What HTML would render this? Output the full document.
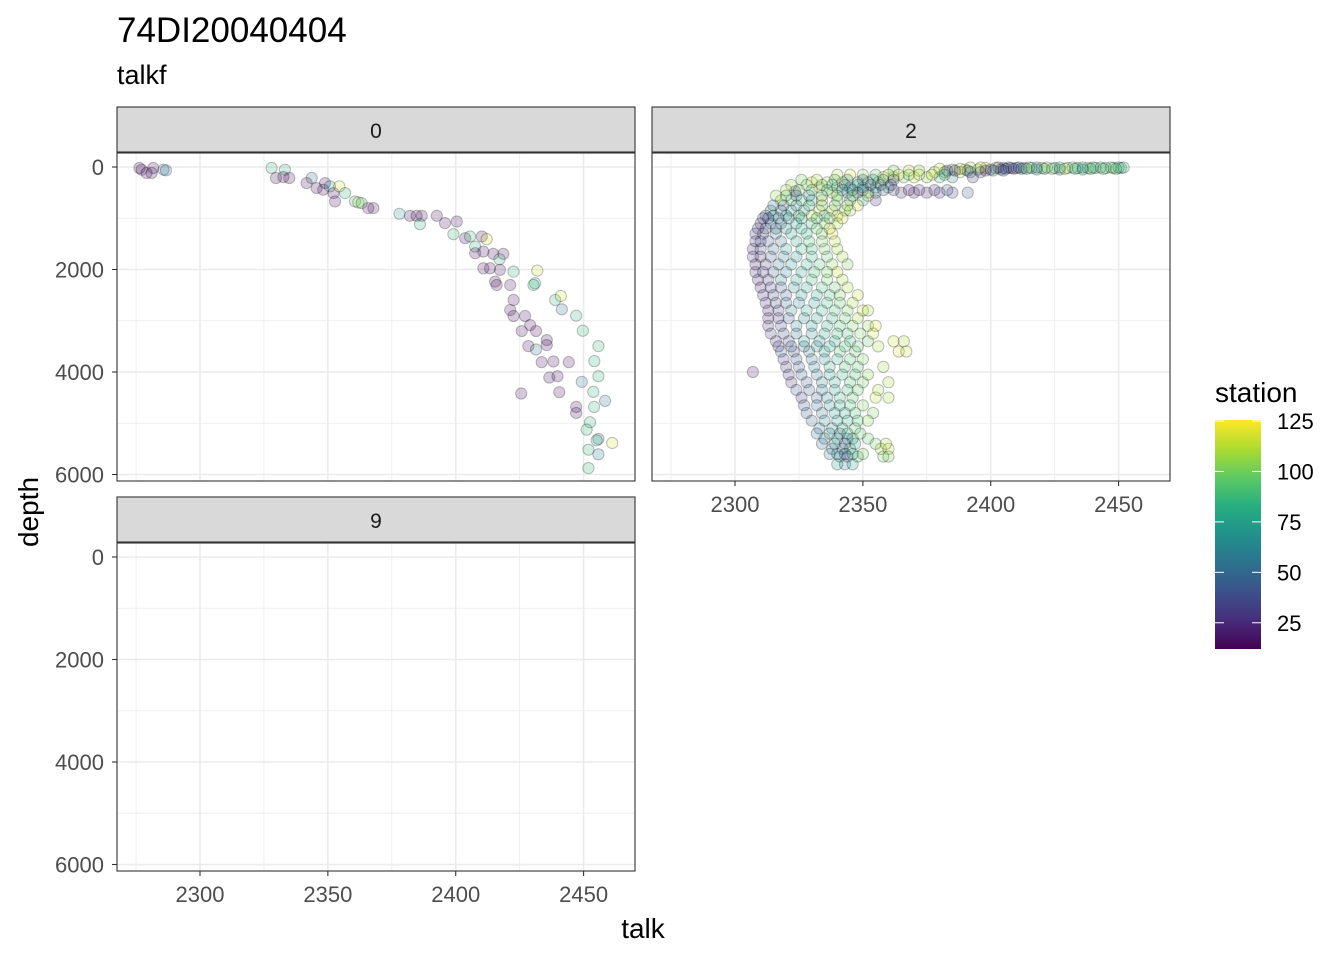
<!DOCTYPE html>
<html><head><meta charset="utf-8"><style>
body{margin:0;background:#fff;}
svg{display:block;font-family:"Liberation Sans",sans-serif;}
</style></head><body>
<svg id="chart" width="1344" height="960" viewBox="0 0 1344 960">
<defs>
<linearGradient id="vir" x1="0" y1="1" x2="0" y2="0">
<stop offset="0" stop-color="#440154"/><stop offset="0.125" stop-color="#472d7b"/><stop offset="0.25" stop-color="#3b528b"/><stop offset="0.375" stop-color="#2c728e"/><stop offset="0.5" stop-color="#21918c"/><stop offset="0.625" stop-color="#28ae80"/><stop offset="0.75" stop-color="#5ec962"/><stop offset="0.875" stop-color="#addc30"/><stop offset="1" stop-color="#fde725"/>
</linearGradient>
</defs>
<text x="117" y="42" font-size="35" fill="#000">74DI20040404</text>
<text x="117" y="84" font-size="27" fill="#000">talkf</text>
<text x="643" y="938" font-size="28" text-anchor="middle" fill="#000">talk</text>
<text transform="translate(38,512) rotate(-90)" font-size="28" text-anchor="middle" fill="#000">depth</text>
<g id="panels"></g>
<g>
<text x="1215" y="402" font-size="28" fill="#000">station</text>
<rect x="1215" y="420" width="46" height="229" fill="url(#vir)"/>
<g id="legticks"></g>
</g>
</svg>
<script>
// ---- data ----
const xTicks = [2300, 2350, 2400, 2450];
const xMinor = [2275, 2325, 2375, 2425];
const yTicks = [0, 2000, 4000, 6000];
const yMinor = [1000, 3000, 5000];
const legendTicks = [25, 50, 75, 100, 125];
const facetLabels = ["0", "2", "9"];

const talk0 = [2276.3,2277.2,2279.1,2281.7,2281.1,2285.7,2286.7,2328.0,2333.2,2329.7,2332.6,2334.9,2343.7,2341.7,2345.6,2348.9,2348.2,2350.8,2352.2,2354.5,2356.7,2352.8,2360.6,2361.9,2363.2,2365.8,2367.8,2378.0,2382.1,2384.7,2386.7,2386.0,2392.6,2395.8,2400.4,2399.1,2403.7,2405.6,2410.2,2412.1,2407.6,2407.6,2410.8,2414.7,2418.6,2417.1,2410.8,2413.4,2417.3,2422.6,2431.9,2415.4,2416.0,2421.3,2431.0,2430.4,2422.6,2421.3,2422.6,2427.1,2438.9,2441.1,2441.5,2447.1,2425.8,2429.1,2431.4,2435.6,2435.6,2428.4,2431.4,2449.7,2433.6,2438.2,2444.2,2455.8,2454.2,2455.8,2436.6,2439.8,2449.3,2425.6,2440.5,2453.8,2458.4,2447.1,2447.1,2454.1,2452.5,2451.2,2455.8,2455.1,2461.2,2451.9,2455.8,2451.9];
const depth0 = [20,52,117,20,117,52,65,20,52,215,196,215,215,313,411,313,443,378,509,378,509,672,672,691,704,802,802,913,952,952,952,1115,952,1095,1063,1311,1389,1356,1356,1408,1552,1682,1650,1695,1695,1800,1976,1976,2008,2041,2021,2236,2302,2302,2269,2302,2595,2791,2908,2908,2595,2517,2778,2901,3201,3084,3201,3377,3475,3495,3560,3195,3808,3795,3808,3495,3788,4082,4108,4082,4192,4420,4394,4388,4564,4681,4799,4681,4981,5125,5307,5333,5385,5516,5607,5875];
const station0 = [15,15,15,15,15,55,55,85,85,15,15,15,55,15,15,15,15,70,15,118,85,15,85,118,85,15,15,70,15,15,15,85,15,15,15,85,15,85,15,118,85,15,15,15,15,85,15,15,15,85,118,15,15,15,85,85,15,15,15,15,85,118,55,85,15,15,15,15,15,15,55,85,15,15,15,85,85,85,15,15,55,15,15,85,55,15,15,85,85,85,55,85,118,85,55,85];

const rowDepths2 = [20,50,100,200,300,400,500,476,650,850,950,1100,1300,1600,1900,2200,2500,2800,3100,3400,3600,3900,4000,4200,4500,4800,5100,5300,5500,5650,5800];
const rowTalks2 = [
[2405,2410,2413,2416,2420,2425,2430,2434,2438,2441,2445,2448,2451,2408,2402,2398],
[2385,2390,2395,2400,2404,2418,2427,2436],
[2378,2382,2388,2392,2396],
[2358,2362,2366,2370,2375,2380,2385,2393],
[2330,2336,2342,2348,2352,2356],
[2333,2340,2345,2350,2355,2360],
[2338,2344,2348,2352,2355,2365,2370,2375,2380,2385,2391],
[2323.5],
[2318,2322,2326,2330,2334,2340,2345,2350,2355],
[2314,2318,2322,2327,2333,2338,2343,2345],
[2312,2315,2320,2325,2330,2335,2340],
[2310,2314,2318,2324,2330,2335,2340],
[2308,2311,2316,2322,2328,2334,2338],
[2307,2310,2315,2320,2326,2330,2335,2340],
[2308,2312,2317,2322,2328,2333,2338,2344],
[2309,2313,2318,2324,2330,2336,2342],
[2311,2315,2320,2326,2332,2337,2341,2348],
[2313,2317,2322,2328,2334,2339,2344,2350,2352],
[2313,2318,2324,2330,2336,2341,2346,2352,2355],
[2316,2321,2327,2333,2339,2345,2352,2362,2366],
[2318,2323,2329,2335,2341,2347,2364,2367],
[2320,2325,2331,2337,2343,2348,2358],
[2307],
[2322,2328,2334,2339,2345,2350,2360],
[2326,2332,2336,2341,2346,2355,2360],
[2328,2334,2339,2343,2347,2354],
[2333,2338,2342,2347],
[2335,2340,2344,2346,2352],
[2338,2342,2345,2357,2360],
[2341,2344,2348,2358,2360],
[2340,2343,2346]];
const rowStations2 = [
[20,60,30,90,110,70,90,80,100,95,85,90,80,40,115,118],
[100,110,95,40,50,70,60,75],
[105,90,115,70,30],
[118,110,100,118,105,85,60,25],
[118,110,118,90,100,118],
[115,85,60,65,70,90],
[110,60,20,50,60,25,20,20,25,30,40],
[25],
[110,95,90,85,118,100,70,80,25],
[60,55,80,90,118,110,100,110],
[40,65,70,85,110,85,115],
[25,50,60,75,85,100,110],
[30,35,60,75,80,100,118],
[25,35,50,70,85,85,100,110],
[20,30,55,70,80,90,105,100],
[20,30,60,75,85,100,110],
[25,35,45,70,75,90,100,115],
[20,30,65,75,80,90,100,115,110],
[25,35,65,70,75,90,100,105,120],
[30,35,70,65,75,85,95,115,110],
[40,35,60,75,90,95,118,115],
[30,40,60,80,90,95,110],
[20],
[25,40,60,80,90,100,110],
[30,45,65,85,95,115,110],
[40,55,70,80,90,100],
[60,65,85,95],
[60,75,50,80,95],
[60,55,85,110,118],
[70,40,90,100,100],
[70,60,70]];

const rowDepthsExtra2 = [10,35,70,150,250,350,450,560,750,1000,1200,1450,1750,2050,2350,2650,2950,3250,3500,3750,4050,4350,4650,4950,5200,5400,5600];
const rowTalksExtra2 = [
[2403,2407,2411,2415,2418,2422,2427,2432,2436,2440,2443,2447,2450,2452,2396,2392],
[2406,2409,2412,2414,2421,2424,2429,2433,2439,2444,2449,2380,2388],
[2362,2368,2372,2383,2386,2391,2398,2401,2405],
[2340,2345,2350,2355,2360,2364,2368,2372,2377,2382],
[2326,2332,2339,2344,2350,2354,2358,2362],
[2322,2328,2334,2338,2343,2348,2353,2357,2361],
[2320,2325,2330,2336,2342,2346,2350,2358,2362,2368,2372,2378,2383],
[2316,2320,2324,2329,2334,2340,2346,2352],
[2315,2319,2324,2329,2334,2339,2344,2348],
[2311,2313,2317,2321,2326,2332,2337,2342],
[2309,2312,2316,2320,2326,2332,2337],
[2308,2310,2313,2318,2324,2329,2334,2339],
[2307,2310,2314,2319,2324,2330,2336,2342],
[2308,2311,2315,2320,2326,2331,2336,2340],
[2310,2314,2318,2323,2328,2334,2339,2344],
[2312,2316,2320,2325,2331,2336,2341,2346],
[2313,2317,2321,2327,2332,2338,2343,2348],
[2314,2319,2324,2330,2335,2340,2344,2349,2354],
[2317,2322,2327,2332,2337,2343,2348,2356],
[2319,2324,2330,2335,2340,2345,2350],
[2321,2326,2332,2337,2342,2347,2352],
[2324,2329,2334,2339,2344,2348,2356],
[2327,2332,2337,2341,2345,2350],
[2330,2335,2340,2344,2348,2352],
[2332,2337,2341,2344,2349],
[2334,2339,2343,2347,2355,2359],
[2337,2340,2343,2346,2350]];
const rowStationsExtra2 = [
[30,50,45,100,60,110,85,95,80,90,70,95,85,90,118,110],
[35,20,55,95,75,100,118,90,85,100,95,118,110],
[100,118,110,30,25,30,20,50,40],
[110,118,105,95,110,118,100,110,118,90],
[100,110,95,60,45,65,75,40],
[105,100,95,85,65,70,40,45,30],
[110,100,95,90,60,70,70,50,30,20,25,30,40],
[105,90,55,65,95,100,100,118],
[55,45,60,80,95,100,110,118],
[35,40,55,65,80,95,100,118],
[30,35,45,60,80,95,115],
[35,30,40,50,75,90,100,115],
[30,25,40,55,65,85,95,110],
[25,30,45,60,75,90,100,115],
[20,30,40,60,75,85,95,110],
[25,35,45,60,70,85,95,110],
[25,30,40,60,70,85,95,110],
[30,35,50,65,75,85,90,100,115],
[30,40,55,65,80,90,95,110],
[30,40,55,65,80,90,100],
[30,45,55,70,85,90,105],
[40,45,55,70,85,95,110],
[40,50,65,75,90,100],
[45,60,70,80,90,105],
[55,65,50,80,95],
[50,60,45,75,100,110],
[55,60,45,75,100]];

// ---- scales ----
const stMin = 12, stMax = 125.5;
const vir = [[68,1,84],[71,45,123],[59,82,139],[44,114,142],[33,145,140],[40,174,128],[94,201,98],[173,220,48],[253,231,37]];
function color(s){
  let t = Math.max(0, Math.min(1, (s - stMin) / (stMax - stMin))) * 8;
  let i = Math.min(7, Math.floor(t)), f = t - i;
  const a = vir[i], b = vir[i+1];
  return `rgb(${a.map((v,k)=>Math.round(v+(b[k]-v)*f)).join(',')})`;
}
const NS = "http://www.w3.org/2000/svg";
function mk(tag, attrs, parent){
  const e = document.createElementNS(NS, tag);
  for (const k in attrs) e.setAttribute(k, attrs[k]);
  parent.appendChild(e); return e;
}
const panelsG = document.getElementById('panels');
const panels = [
  {x0:117, y0:153, label:facetLabels[0], xAxis:false, yAxis:true},
  {x0:652, y0:153, label:facetLabels[1], xAxis:true, yAxis:false},
  {x0:117, y0:543, label:facetLabels[2], xAxis:true, yAxis:true}
];
const PW = 518, PH = 328;
function sx(p, v){ return p.x0 + 83 + (v - 2300) * 2.5573; }
function sy(p, v){ return p.y0 + 14 + v * 0.05125; }

panels.forEach((p, pi) => {
  const g = mk('g', {}, panelsG);
  
  
  const strip = mk('rect', {x:p.x0, y:p.y0-46, width:PW, height:45, fill:'#d9d9d9', stroke:'#333', 'stroke-width':1.1}, g);
  
  
  const st = mk('text', {x:p.x0+PW/2, y:p.y0-15, 'font-size':21, 'text-anchor':'middle', fill:'#1a1a1a'}, g);
  st.textContent = p.label;
  
  
  mk('rect', {x:p.x0, y:p.y0, width:PW, height:PH, fill:'#fff'}, g);
  xMinor.forEach(v => mk('line', {x1:sx(p,v), x2:sx(p,v), y1:p.y0, y2:p.y0+PH, stroke:'#ebebeb', 'stroke-width':0.8}, g));
  yMinor.forEach(v => mk('line', {x1:p.x0, x2:p.x0+PW, y1:sy(p,v), y2:sy(p,v), stroke:'#ebebeb', 'stroke-width':0.8}, g));
  xTicks.forEach(v => mk('line', {x1:sx(p,v), x2:sx(p,v), y1:p.y0, y2:p.y0+PH, stroke:'#ebebeb', 'stroke-width':1.6}, g));
  yTicks.forEach(v => mk('line', {x1:p.x0, x2:p.x0+PW, y1:sy(p,v), y2:sy(p,v), stroke:'#ebebeb', 'stroke-width':1.6}, g));
  const pts = mk('g', {}, g);
  
  
  function dot(t, d, s){
    const c = mk('circle', {cx:sx(p,t), cy:sy(p,d), r:5.6, fill:color(s), 'fill-opacity':0.22, stroke:'#000', 'stroke-opacity':0.25, 'stroke-width':1}, pts);
    
    
  }
  if (pi === 0) talk0.forEach((t, i) => dot(t, depth0[i], station0[i]));
  if (pi === 1) {
    rowDepths2.forEach((d, r) => rowTalks2[r].forEach((t, j) => dot(t, d, rowStations2[r][j])));
    rowDepthsExtra2.forEach((d, r) => rowTalksExtra2[r].forEach((t, j) => dot(t, d, rowStationsExtra2[r][j])));
  }
  mk('rect', {x:p.x0, y:p.y0, width:PW, height:PH, fill:'none', stroke:'#333', 'stroke-width':1.1}, g);
  if (p.yAxis) {
    const ay = mk('g', {}, g);
    
    
    yTicks.forEach(v => {
      mk('line', {x1:p.x0-5, x2:p.x0, y1:sy(p,v), y2:sy(p,v), stroke:'#333', 'stroke-width':1.1}, ay);
      const t = mk('text', {x:p.x0-13, y:sy(p,v)+8, 'font-size':22, 'text-anchor':'end', fill:'#4d4d4d'}, ay);
      t.textContent = v;
    });
  }
  if (p.xAxis) {
    const ax = mk('g', {}, g);
    
    
    xTicks.forEach(v => {
      mk('line', {x1:sx(p,v), x2:sx(p,v), y1:p.y0+PH, y2:p.y0+PH+5, stroke:'#333', 'stroke-width':1.1}, ax);
      const t = mk('text', {x:sx(p,v), y:p.y0+PH+31, 'font-size':22, 'text-anchor':'middle', fill:'#4d4d4d'}, ax);
      t.textContent = v;
    });
  }
});
const lt = document.getElementById('legticks');
legendTicks.forEach(v => {
  const y = 649 - (v - stMin) / (stMax - stMin) * 229;
  mk('line', {x1:1215, x2:1224, y1:y, y2:y, stroke:'#fff', 'stroke-width':1}, lt);
  mk('line', {x1:1252, x2:1261, y1:y, y2:y, stroke:'#fff', 'stroke-width':1}, lt);
  const t = mk('text', {x:1277, y:y+8, 'font-size':22, fill:'#000'}, lt);
  t.textContent = v;
  
  
});
</script>
</body></html>
